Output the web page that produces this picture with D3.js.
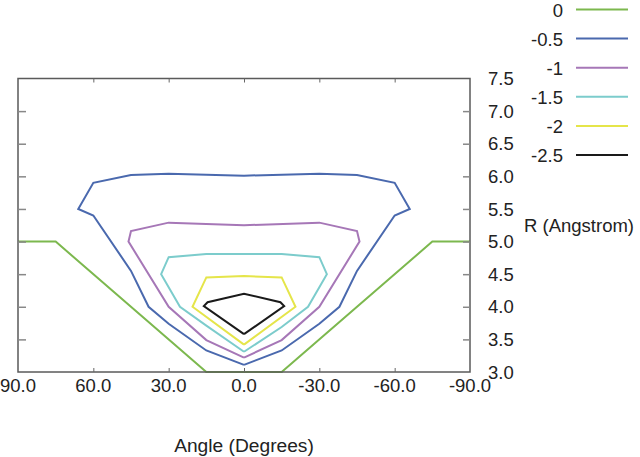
<!DOCTYPE html>
<html>
<head>
<meta charset="utf-8">
<script src="https://cdn.jsdelivr.net/npm/d3@7"></script>
<style>
  html, body { margin: 0; padding: 0; background: #fff; }
  svg { display: block; }
  text { font-family: "Liberation Sans", Arial, Helvetica, sans-serif; fill: #222; }
</style>
</head>
<body>
<svg id="chart" width="640" height="457"></svg>
<script>
// ---- data (angle in degrees, R in Angstrom) ----
const levelLabels = ["0", "-0.5", "-1", "-1.5", "-2", "-2.5"];
const levelColors = ["#7cb84e", "#4a69ae", "#a677b7", "#7ccccc", "#e5e54a", "#1a1a1a"];

const contour0 = [[90,5.0],[75,5.0],[15,3.0],[-15,3.0],[-75,5.0],[-90,5.0]];
const contourM05 = [[0,3.11],[15,3.33],[30,3.74],[38,4.0],[45,4.55],[60,5.4],[66,5.5],[60,5.9],[45,6.02],[30,6.04],[0,6.01],
                    [-30,6.04],[-45,6.02],[-60,5.9],[-66,5.5],[-60,5.4],[-45,4.55],[-38,4.0],[-30,3.74],[-15,3.33],[0,3.11]];
const contourM1 = [[0,3.22],[15,3.49],[30,4.0],[46,5.0],[45,5.16],[30,5.29],[0,5.25],[-30,5.29],[-45,5.16],[-46,5.0],[-30,4.0],[-15,3.49],[0,3.22]];
const contourM15 = [[0,3.31],[15,3.71],[25.5,4.0],[33,4.5],[30,4.76],[15,4.81],[0,4.81],[-15,4.81],[-30,4.76],[-33,4.5],[-25.5,4.0],[-15,3.69],[0,3.31]];
const contourM2 = [[0,3.42],[20.5,4.0],[15,4.45],[0,4.47],[-15,4.45],[-20.5,4.0],[0,3.42]];
const contourM25 = [[0,3.58],[16,4.01],[14.5,4.07],[0,4.2],[-14.5,4.07],[-16,4.01],[0,3.58]];

const xTicks = [90, 60, 30, 0, -30, -60, -90];
const yTicks = [3.0, 3.5, 4.0, 4.5, 5.0, 5.5, 6.0, 6.5, 7.0, 7.5];
const xTitle = "Angle (Degrees)";
const yTitle = "R (Angstrom)";

const contours = [contour0, contourM05, contourM1, contourM15, contourM2, contourM25];

// ---- layout ----
const svg = d3.select("#chart");
const pLeft = 18, pRight = 470, pTop = 78.5, pBottom = 372;
const fs = 18.5;

const x = d3.scaleLinear().domain([90, -90]).range([pLeft, pRight]);
const y = d3.scaleLinear().domain([3.0, 7.5]).range([pBottom, pTop]);

// contours
const line = d3.line().x(d => x(d[0])).y(d => y(d[1]));
svg.append("g").selectAll("path").data(contours).join("path")
  .attr("d", d => line(d))
  .attr("fill", "none")
  .attr("stroke", (d, i) => levelColors[i])
  .attr("stroke-width", 2)
  .attr("stroke-linejoin", "miter");

// frame
svg.append("rect")
  .attr("x", pLeft).attr("y", pTop)
  .attr("width", pRight - pLeft).attr("height", pBottom - pTop)
  .attr("fill", "none").attr("stroke", "#5a5a5a").attr("stroke-width", 1.5);

// axes via d3 (ticks inward, labels custom)
const yLeft = d3.axisRight(y).tickValues(yTicks.slice(1, -1)).tickSize(8).tickFormat("");
svg.append("g").attr("transform", `translate(${pLeft},0)`).call(yLeft)
  .call(g => g.select(".domain").remove())
  .call(g => g.selectAll("line").attr("stroke", "#888").attr("stroke-width", 1.5));

const yRight = d3.axisLeft(y).tickValues(yTicks.slice(1, -1)).tickSize(7).tickFormat("");
svg.append("g").attr("transform", `translate(${pRight},0)`).call(yRight)
  .call(g => g.select(".domain").remove())
  .call(g => g.selectAll("line").attr("stroke", "#888").attr("stroke-width", 1.5));

const xBottom = d3.axisTop(x).tickValues(xTicks.slice(1, -1)).tickSize(4).tickFormat("");
svg.append("g").attr("transform", `translate(0,${pBottom})`).call(xBottom)
  .call(g => g.select(".domain").remove())
  .call(g => g.selectAll("line").attr("stroke", "#666").attr("stroke-width", 1));

const xTop = d3.axisBottom(x).tickValues(xTicks.slice(1, -1)).tickSize(4).tickFormat("");
svg.append("g").attr("transform", `translate(0,${pTop})`).call(xTop)
  .call(g => g.select(".domain").remove())
  .call(g => g.selectAll("line").attr("stroke", "#666").attr("stroke-width", 1));

// x tick labels
svg.append("g").selectAll("text").data(xTicks).join("text")
  .attr("x", d => x(d)).attr("y", 391.5)
  .attr("text-anchor", "middle")
  .attr("font-size", fs)
  .text(d => d.toFixed(1));

// y tick labels (right side)
svg.append("g").selectAll("text").data(yTicks).join("text")
  .attr("x", 488).attr("y", d => y(d))
  .attr("dy", "0.36em")
  .attr("font-size", fs)
  .text(d => d.toFixed(1));

// axis titles
svg.append("text").attr("x", x(0)).attr("y", 452)
  .attr("text-anchor", "middle").attr("font-size", 19.2).text(xTitle);
svg.append("text").attr("x", 524).attr("y", 232)
  .attr("font-size", fs).text(yTitle);

// legend
const legendY0 = 9.5, legendDy = 29.1;
const lg = svg.append("g").selectAll("g").data(levelLabels).join("g")
  .attr("transform", (d, i) => `translate(0,${legendY0 + i * legendDy})`);
lg.append("text").attr("x", 563).attr("y", 0.7).attr("dy", "0.36em")
  .attr("text-anchor", "end").attr("font-size", fs).text(d => d);
lg.append("line").attr("x1", 576).attr("x2", 628).attr("y1", 0).attr("y2", 0)
  .attr("stroke", (d, i) => levelColors[i]).attr("stroke-width", 2);
</script>
</body>
</html>
